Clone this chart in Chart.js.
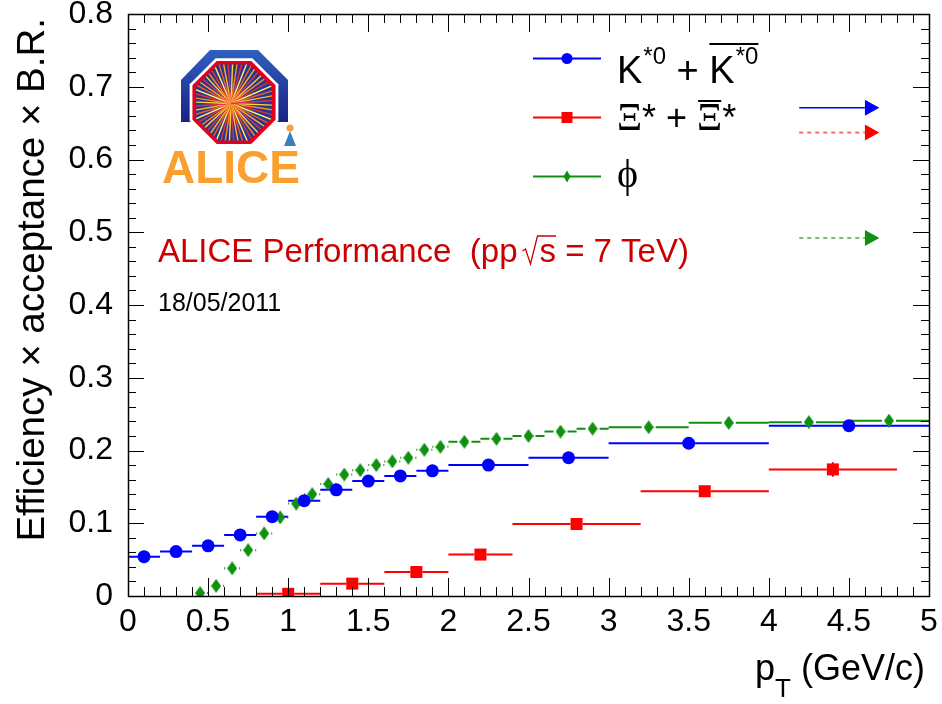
<!DOCTYPE html>
<html>
<head>
<meta charset="utf-8">
<script src="https://cdn.jsdelivr.net/npm/chart.js@4.4.0/dist/chart.umd.min.js"></script>
<style>
  html, body { margin: 0; padding: 0; background: #fff; }
  #wrap { width: 942px; height: 704px; }
</style>
</head>
<body>
<div id="wrap"><canvas id="effChart" width="942" height="704"></canvas></div>
<script>
// values
// K*0 + anti-K*0
const kX = [0.1, 0.3, 0.5, 0.7, 0.9, 1.1, 1.3, 1.5, 1.7, 1.9, 2.25, 2.75, 3.5, 4.5];
const kXErr = [0.1, 0.1, 0.1, 0.1, 0.1, 0.1, 0.1, 0.1, 0.1, 0.1, 0.25, 0.25, 0.5, 0.5];
const kY = [0.054, 0.061, 0.069, 0.084, 0.109, 0.131, 0.146, 0.158, 0.165, 0.172, 0.180, 0.190, 0.210, 0.234];

// Xi* + anti-Xi*
const xiX = [1.0, 1.4, 1.8, 2.2, 2.8, 3.6, 4.4];
const xiXErr = [0.2, 0.2, 0.2, 0.2, 0.4, 0.4, 0.4];
const xiY = [0.003, 0.017, 0.033, 0.057, 0.099, 0.144, 0.174];
const xiYErr = [0.001, 0.001, 0.002, 0.002, 0.003, 0.004, 0.010];

// phi
const phiX = [0.45, 0.55, 0.65, 0.75, 0.85, 0.95, 1.05, 1.15, 1.25, 1.35, 1.45, 1.55, 1.65, 1.75, 1.85, 1.95,
              2.1, 2.3, 2.5, 2.7, 2.9, 3.25, 3.75, 4.25, 4.75];
const phiXErr = [0.05, 0.05, 0.05, 0.05, 0.05, 0.05, 0.05, 0.05, 0.05, 0.05, 0.05, 0.05, 0.05, 0.05, 0.05, 0.05,
                 0.1, 0.1, 0.1, 0.1, 0.1, 0.25, 0.25, 0.25, 0.25];
const phiY = [0.004, 0.014, 0.038, 0.063, 0.086, 0.108, 0.127, 0.140, 0.154, 0.167, 0.173, 0.180, 0.185, 0.190, 0.201, 0.205,
              0.212, 0.216, 0.220, 0.226, 0.230, 0.232, 0.238, 0.239, 0.241];

const FONT = "'Liberation Sans', Arial, Helvetica, sans-serif";
const SERIF = "'Liberation Serif', 'DejaVu Serif', serif";
const BLUE = '#0000ff';
const RED = '#ff0000';
const GREEN = '#109010';

function toPoints(xs, ys) {
  return xs.map(function (x, i) { return { x: x, y: ys[i] }; });
}

function diamondCanvas(w, h, color) {
  const c = document.createElement('canvas');
  c.width = w; c.height = h;
  const g = c.getContext('2d');
  g.fillStyle = color;
  g.beginPath();
  g.moveTo(w / 2, 0); g.lineTo(w, h / 2); g.lineTo(w / 2, h); g.lineTo(0, h / 2);
  g.closePath();
  g.fill();
  return c;
}

// horizontal (and vertical) error bars, with the gap round the marker like ROOT
const errorBars = {
  id: 'errorBars',
  beforeDatasetsDraw(chart) {
    const ctx = chart.ctx;
    const xs = chart.scales.x, ys = chart.scales.y;
    chart.data.datasets.forEach(function (ds) {
      if (!ds.xErr) return;
      ctx.save();
      ctx.strokeStyle = ds.borderColor;
      ctx.lineWidth = 2;
      ds.data.forEach(function (p, i) {
        const px = xs.getPixelForValue(p.x);
        const py = ys.getPixelForValue(p.y);
        const x0 = xs.getPixelForValue(p.x - ds.xErr[i]);
        const x1 = xs.getPixelForValue(p.x + ds.xErr[i]);
        const g = ds.barGap;
        ctx.beginPath();
        if (px - g > x0) { ctx.moveTo(x0, py); ctx.lineTo(px - g, py); }
        if (x1 > px + g) { ctx.moveTo(px + g, py); ctx.lineTo(x1, py); }
        if (ds.yErr) {
          const y0 = ys.getPixelForValue(p.y + ds.yErr[i]);
          const y1 = ys.getPixelForValue(p.y - ds.yErr[i]);
          if (py - y0 > g) { ctx.moveTo(px, y0); ctx.lineTo(px, y1); }
        }
        ctx.stroke();
      });
      ctx.restore();
    });
  }
};

// frame with inward ticks on all four sides
const frameTicks = {
  id: 'frameTicks',
  afterDraw(chart) {
    const ctx = chart.ctx, a = chart.chartArea;
    const xs = chart.scales.x, ys = chart.scales.y;
    ctx.save();
    ctx.strokeStyle = '#000';
    ctx.lineWidth = 1;
    ctx.beginPath();
    for (let i = 0; i <= 50; i++) {
      const px = Math.round(xs.getPixelForValue(i / 10)) + 0.5;
      const len = i % 5 === 0 ? 18 : 9;
      ctx.moveTo(px, a.bottom); ctx.lineTo(px, a.bottom - len);
      ctx.moveTo(px, a.top); ctx.lineTo(px, a.top + len);
    }
    for (let i = 0; i <= 40; i++) {
      const py = Math.round(ys.getPixelForValue(i / 50)) + 0.5;
      const len = i % 5 === 0 ? 16 : 8;
      ctx.moveTo(a.left, py); ctx.lineTo(a.left + len, py);
      ctx.moveTo(a.right, py); ctx.lineTo(a.right - len, py);
    }
    ctx.stroke();
    ctx.lineWidth = 1.5;
    ctx.strokeRect(Math.round(a.left) + 0.5, Math.round(a.top) + 0.5,
      Math.round(a.right - a.left), Math.round(a.bottom - a.top));
    ctx.restore();
  }
};

function drawLogo(ctx) {
  const cx = 234, cy = 102.5, R = 45;
  ctx.save();
  const grad = ctx.createLinearGradient(0, 50, 0, 125);
  grad.addColorStop(0, '#2f5fc0');
  grad.addColorStop(1, '#1a1f80');
  ctx.fillStyle = grad;
  ctx.beginPath();
  ctx.moveTo(181, 122); ctx.lineTo(181, 80); ctx.lineTo(210, 50);
  ctx.lineTo(258, 50); ctx.lineTo(288, 80); ctx.lineTo(288, 122);
  ctx.closePath();
  ctx.fill();
  function oct(r) {
    ctx.beginPath();
    for (let k = 0; k < 8; k++) {
      const ang = (22.5 + 45 * k) * Math.PI / 180;
      ctx.lineTo(cx + r * Math.cos(ang), cy + r * Math.sin(ang));
    }
    ctx.closePath();
  }
  oct(R + 3); ctx.fillStyle = '#ffffff'; ctx.fill();
  oct(R); ctx.fillStyle = '#e4001b'; ctx.fill();
  oct(R - 4); ctx.fillStyle = '#2a3590'; ctx.fill();
  ctx.save();
  oct(R - 4); ctx.clip();
  const rayCols = ['#ffd52e', '#ff8c1a', '#e8303a', '#fff06a', '#f0602a', '#ffb422', '#d83060'];
  for (let k = 0; k < 56; k++) {
    const ang = k * (360 / 56) * Math.PI / 180 + 0.04;
    ctx.strokeStyle = rayCols[k % rayCols.length];
    ctx.lineWidth = 1.4;
    ctx.beginPath();
    ctx.moveTo(cx - 3, cy + 1);
    ctx.lineTo(cx - 3 + 60 * Math.cos(ang), cy + 1 + 60 * Math.sin(ang));
    ctx.stroke();
  }
  ctx.restore();
  // little figure
  ctx.fillStyle = '#f4a040';
  ctx.beginPath(); ctx.arc(290, 128, 3.5, 0, Math.PI * 2); ctx.fill();
  ctx.fillStyle = '#3c7fc0';
  ctx.beginPath(); ctx.moveTo(290, 131); ctx.lineTo(296, 146); ctx.lineTo(284, 146); ctx.closePath(); ctx.fill();
  ctx.fillStyle = '#f9a031';
  ctx.font = 'bold 46px ' + FONT;
  ctx.textBaseline = 'alphabetic';
  ctx.fillText('ALICE', 162, 183);
  ctx.restore();
}

const decorations = {
  id: 'decorations',
  afterDraw(chart) {
    const ctx = chart.ctx;
    const xs = chart.scales.x, ys = chart.scales.y;
    ctx.save();
    ctx.textBaseline = 'alphabetic';
    ctx.textAlign = 'left';

    drawLogo(ctx);

    // y title, right-aligned at the top end
    ctx.save();
    ctx.translate(44, 18);
    ctx.rotate(-Math.PI / 2);
    ctx.font = '38.5px ' + FONT;
    ctx.fillStyle = '#000';
    ctx.textAlign = 'right';
    ctx.fillText('Efficiency \u00d7 acceptance \u00d7 B.R.', 0, 0);
    ctx.restore();

    // x title p_T (GeV/c)
    ctx.fillStyle = '#000';
    ctx.font = '36px ' + FONT;
    const wp = ctx.measureText('p').width;
    const wRest = ctx.measureText(' (GeV/c)').width;
    ctx.font = '26px ' + FONT;
    const wT = ctx.measureText('T').width;
    let tx = 925 - wRest - wT - wp;
    ctx.font = '36px ' + FONT;
    ctx.fillText('p', tx, 680); tx += wp;
    ctx.font = '26px ' + FONT;
    ctx.fillText('T', tx, 697); tx += wT;
    ctx.font = '36px ' + FONT;
    ctx.fillText(' (GeV/c)', tx, 680);

    // performance label
    ctx.fillStyle = '#cc0000';
    ctx.font = '33px ' + FONT;
    let lx = 158;
    const t1 = 'ALICE Performance  (pp';
    ctx.fillText(t1, lx, 262);
    lx += ctx.measureText(t1).width + 5;
    const ws = ctx.measureText('s').width;
    ctx.strokeStyle = '#cc0000';
    ctx.lineWidth = 1.3;
    ctx.beginPath();
    ctx.moveTo(lx, 251); ctx.lineTo(lx + 3, 249);
    ctx.lineTo(lx + 8, 264); ctx.lineTo(lx + 15, 236);
    ctx.lineTo(lx + 17 + ws, 236);
    ctx.stroke();
    lx += 17;
    ctx.fillText('s = 7 TeV)', lx, 262);

    ctx.fillStyle = '#000';
    ctx.font = '25px ' + FONT;
    ctx.fillText('18/05/2011', 158, 311);

    // legend
    const rows = [
      { y: 58.5, color: BLUE, marker: 'circle' },
      { y: 117.5, color: RED, marker: 'square' },
      { y: 176.5, color: GREEN, marker: 'diamond' }
    ];
    rows.forEach(function (r) {
      ctx.strokeStyle = r.color;
      ctx.fillStyle = r.color;
      ctx.lineWidth = 2;
      ctx.beginPath(); ctx.moveTo(533, r.y); ctx.lineTo(601, r.y); ctx.stroke();
      ctx.beginPath();
      if (r.marker === 'circle') {
        ctx.arc(567, r.y, 5.5, 0, Math.PI * 2);
      } else if (r.marker === 'square') {
        ctx.rect(561.5, r.y - 5.5, 11, 11);
      } else {
        ctx.moveTo(567, r.y - 6); ctx.lineTo(570.5, r.y); ctx.lineTo(567, r.y + 6); ctx.lineTo(563.5, r.y);
        ctx.closePath();
      }
      ctx.fill();
    });

    ctx.fillStyle = '#000';
    ctx.strokeStyle = '#000';
    ctx.lineWidth = 2;
    // K*0 + anti-K*0
    let kx = 617;
    ctx.font = '38px ' + FONT;
    ctx.fillText('K', kx, 83); kx += ctx.measureText('K').width + 1;
    ctx.font = '24px ' + FONT;
    ctx.fillText('*0', kx, 64); kx += ctx.measureText('*0').width;
    ctx.font = '38px ' + FONT;
    ctx.fillText(' + ', kx, 83); kx += ctx.measureText(' + ').width;
    const kbar = kx;
    ctx.fillText('K', kx, 83); kx += ctx.measureText('K').width + 1;
    ctx.font = '24px ' + FONT;
    ctx.fillText('*0', kx, 64); kx += ctx.measureText('*0').width;
    ctx.beginPath(); ctx.moveTo(kbar, 44); ctx.lineTo(kx, 44); ctx.stroke();

    // Xi* + anti-Xi*
    let xx = 617;
    ctx.font = '39px ' + SERIF;
    ctx.fillText('\u039e', xx, 130); xx += ctx.measureText('\u039e').width;
    ctx.font = '36px ' + FONT;
    ctx.fillText('* + ', xx, 130); xx += ctx.measureText('* + ').width;
    ctx.font = '39px ' + SERIF;
    const wXi = ctx.measureText('\u039e').width;
    ctx.fillText('\u039e', xx, 130);
    ctx.beginPath(); ctx.moveTo(xx + 1, 101); ctx.lineTo(xx + wXi - 1, 101); ctx.stroke();
    xx += wXi;
    ctx.font = '36px ' + FONT;
    ctx.fillText('*', xx, 130);

    // phi
    ctx.font = '40px ' + SERIF;
    ctx.fillText('\u03d5', 617, 187);

    // off-scale arrows on the right
    const arrows = [
      { y: 0.671, color: BLUE, dash: [] },
      { y: 0.637, color: RED, dash: [4, 4] },
      { y: 0.492, color: GREEN, dash: [4, 4] }
    ];
    arrows.forEach(function (ar) {
      const py = ys.getPixelForValue(ar.y);
      const xa = xs.getPixelForValue(4.19), xb = xs.getPixelForValue(4.60), xt = xs.getPixelForValue(4.69);
      ctx.save();
      ctx.strokeStyle = ar.color;
      ctx.globalAlpha = ar.dash.length ? 0.6 : 1;
      ctx.lineWidth = ar.dash.length ? 2 : 1.5;
      ctx.setLineDash(ar.dash);
      ctx.beginPath(); ctx.moveTo(xa, py); ctx.lineTo(xb, py); ctx.stroke();
      ctx.restore();
      ctx.fillStyle = ar.color;
      ctx.beginPath(); ctx.moveTo(xb, py - 8); ctx.lineTo(xt, py); ctx.lineTo(xb, py + 8); ctx.closePath(); ctx.fill();
    });

    ctx.restore();
  }
};

const tickLabel = function (v) { return String(Math.round(v * 10) / 10); };

new Chart(document.getElementById('effChart').getContext('2d'), {
  type: 'scatter',
  data: {
    datasets: [
      {
        label: 'K*0',
        data: toPoints(kX, kY),
        xErr: kXErr,
        barGap: 5,
        borderColor: BLUE,
        backgroundColor: BLUE,
        pointStyle: 'circle',
        pointRadius: 6.5,
        pointBorderWidth: 0
      },
      {
        label: 'Xi*',
        data: toPoints(xiX, xiY),
        xErr: xiXErr,
        yErr: xiYErr,
        barGap: 6,
        borderColor: RED,
        backgroundColor: RED,
        pointStyle: 'rect',
        pointRadius: 8.5,
        pointBorderWidth: 0
      },
      {
        label: 'phi',
        data: toPoints(phiX, phiY),
        xErr: phiXErr,
        barGap: 7,
        borderColor: GREEN,
        backgroundColor: GREEN,
        pointStyle: diamondCanvas(10, 14, GREEN),
        pointRadius: 7,
        pointBorderWidth: 0
      }
    ]
  },
  options: {
    responsive: false,
    animation: false,
    layout: { padding: { top: 14, right: 13, left: 0, bottom: 0 } },
    plugins: { legend: { display: false }, tooltip: { enabled: false } },
    scales: {
      x: {
        type: 'linear', min: 0, max: 5,
        border: { display: false },
        grid: { display: false, drawTicks: false, tickLength: 0 },
        ticks: { stepSize: 0.5, padding: 10, color: '#000', maxRotation: 0, autoSkip: false,
                 font: { family: FONT, size: 32, lineHeight: 1 }, callback: tickLabel },
        afterFit(s) { s.height = 108; s.paddingLeft = 0; s.paddingRight = 0; }
      },
      y: {
        type: 'linear', min: 0, max: 0.8,
        border: { display: false },
        grid: { display: false, drawTicks: false, tickLength: 0 },
        ticks: { stepSize: 0.1, padding: 15, color: '#000', autoSkip: false,
                 font: { family: FONT, size: 32, lineHeight: 1 }, callback: tickLabel },
        afterFit(s) { s.width = 128; s.paddingTop = 0; s.paddingBottom = 0; }
      }
    }
  },
  plugins: [errorBars, frameTicks, decorations]
});
</script>
</body>
</html>
